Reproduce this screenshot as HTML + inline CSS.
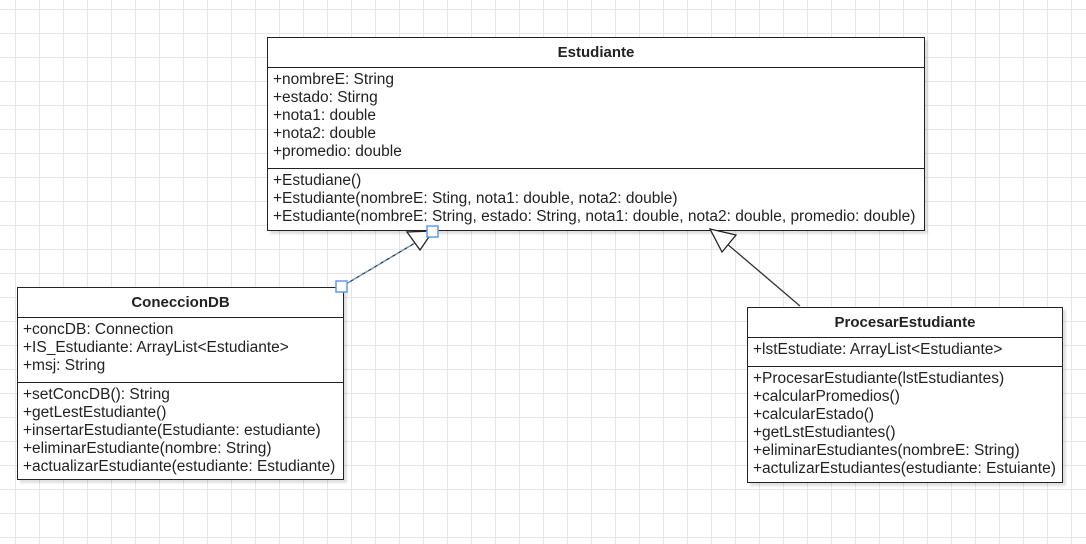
<!DOCTYPE html>
<html><head><meta charset="utf-8"><style>
body{margin:0;width:1086px;height:544px;overflow:hidden;background:#fff;
background-image:linear-gradient(#e6e6e6 1px,transparent 1px),linear-gradient(90deg,#e6e6e6 1px,transparent 1px);
background-size:24px 24px;background-position:15px 9px;font-family:"Liberation Sans",sans-serif;position:relative}
.c{position:absolute;background:#fff;border:1px solid #222;box-shadow:3px 3px 2px rgba(0,0,0,0.12);box-sizing:border-box;font-size:15.5px;color:#222}
.h{font-weight:bold;text-align:center;border-bottom:1px solid #222;box-sizing:border-box;font-size:15px}
.s{padding:3px 0 0 5px;line-height:18px;white-space:nowrap;box-sizing:border-box}
.s+.s{border-top:1px solid #222}
</style></head><body>
<div class="c" style="left:267px;top:37px;width:658px;height:194px">
<div class="h" style="height:30px;line-height:30px">Estudiante</div>
<div class="s" style="height:100px">+nombreE: String<br>+estado: Stirng<br>+nota1: double<br>+nota2: double<br>+promedio: double</div>
<div class="s">+Estudiane()<br>+Estudiante(nombreE: Sting, nota1: double, nota2: double)<br>+Estudiante(nombreE: String, estado: String, nota1: double, nota2: double, promedio: double)</div>
</div>
<div class="c" style="left:17px;top:287px;width:327px;height:193px">
<div class="h" style="height:30px;line-height:30px">ConeccionDB</div>
<div class="s" style="height:64px">+concDB: Connection<br>+IS_Estudiante: ArrayList&lt;Estudiante&gt;<br>+msj: String</div>
<div class="s">+setConcDB(): String<br>+getLestEstudiante()<br>+insertarEstudiante(Estudiante: estudiante)<br>+eliminarEstudiante(nombre: String)<br>+actualizarEstudiante(estudiante: Estudiante)</div>
</div>
<div class="c" style="left:747px;top:307px;width:316px;height:176px">
<div class="h" style="height:30px;line-height:30px">ProcesarEstudiante</div>
<div class="s" style="height:28px">+lstEstudiate: ArrayList&lt;Estudiante&gt;</div>
<div class="s">+ProcesarEstudiante(lstEstudiantes)<br>+calcularPromedios()<br>+calcularEstado()<br>+getLstEstudiantes()<br>+eliminarEstudiantes(nombreE: String)<br>+actulizarEstudiantes(estudiante: Estuiante)</div>
</div>
<svg width="1086" height="544" style="position:absolute;left:0;top:0">
<line x1="341" y1="287" x2="425" y2="237" stroke="#333" stroke-width="1.3"/>
<line x1="341" y1="287" x2="425" y2="237" stroke="#6fa8f0" stroke-width="1" stroke-dasharray="4 3"/>
<polygon points="433,231 420,250 407,232" fill="#fff" stroke="#222" stroke-width="1.3"/>
<rect x="427" y="226" width="11" height="11" fill="#fff" stroke="#5b9cf0" stroke-width="1.5"/>
<rect x="336" y="281" width="11" height="11" fill="#fff" stroke="#5b9cf0" stroke-width="1.5"/>
<line x1="800" y1="306" x2="726" y2="243" stroke="#333" stroke-width="1.3"/>
<polygon points="710,229 736,235 722,252" fill="#fff" stroke="#222" stroke-width="1.3"/>
</svg>
</body></html>
